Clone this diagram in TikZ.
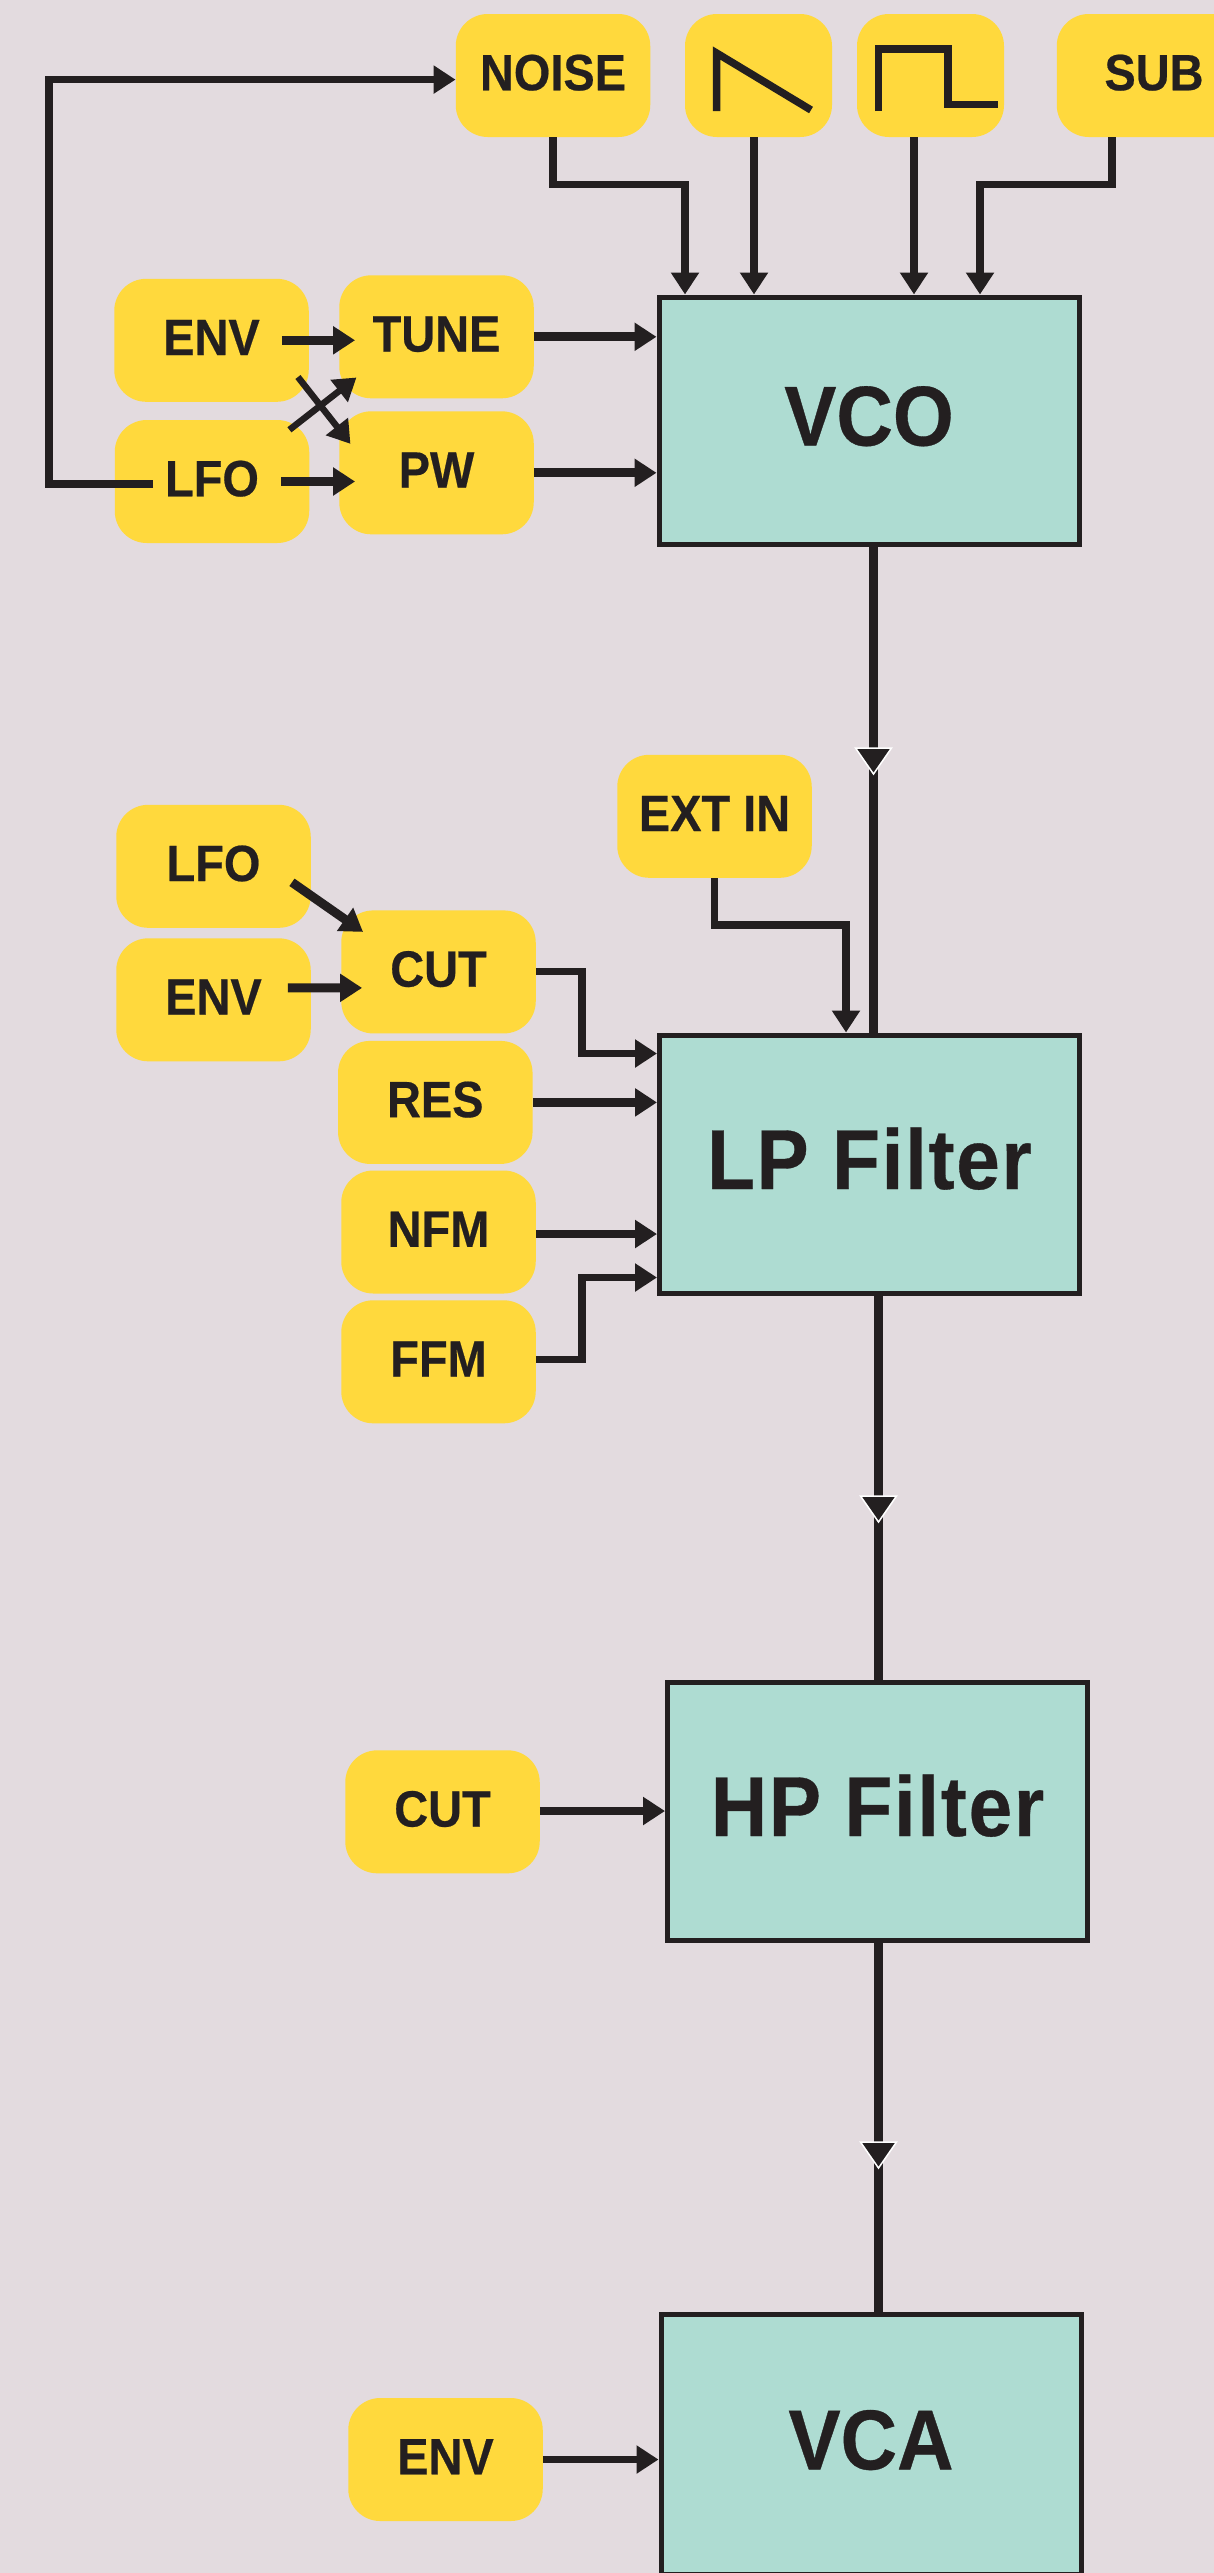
\documentclass[tikz,border=0pt]{standalone}
\usepackage{fontspec}
\setmainfont{Liberation Sans}[FakeStretch=0.92,BoldFeatures={FakeBold=0.4}]
\usetikzlibrary{arrows.meta,positioning}
\tikzset{>={Triangle[length=22pt,width=27pt]}}
\definecolor{background}{HTML}{E3DBDF}
\definecolor{penColor}{HTML}{231F20}
\definecolor{modColor}{HTML}{FFD93D}
\definecolor{moduleColor}{HTML}{AEDCD2}
\tikzset{
  modbox/.style={fill=modColor,rounded corners=32pt,minimum width=194.5pt,minimum height=123pt,inner sep=0pt,
    text=penColor,font=\bfseries\fontsize{51}{51}\selectfont,text height=36.5pt,text depth=7pt},
  modulebox/.style={draw=penColor,line width=5pt,fill=moduleColor,inner sep=0pt,minimum width=420pt,minimum height=258pt,
    text=penColor,font=\bfseries\fontsize{85}{85}\selectfont,text height=61pt,text depth=11pt},
  filterbox/.style={modulebox,font=\bfseries\fontsize{85}{85}\selectfont\addfontfeatures{LetterSpace=2}},
  wire/.style={penColor,line width=7.5pt,miter limit=10},
  fatwire/.style={penColor,line width=9pt},
  thinwire/.style={penColor,line width=6.5pt},
  midtip/.style={draw=white,fill=penColor,line width=1.5pt}
}
\begin{document}
\begin{tikzpicture}[x=1pt,y=-1pt]
\fill[background] (0,0) rectangle (1214,2573);
\useasboundingbox (0,0) rectangle (1214,2573);
% oscillator
\node[modulebox,minimum height=247pt] (vco) at (869,420.5) {VCO};
\node[modbox] (noise) at (553,75.5) {NOISE};
\node[modbox,minimum width=147pt] (saw) at (758.5,75.5) {};
\node[modbox,minimum width=147pt] (pulse) at (930.5,75.5) {};
\node[modbox] (sub) at (1154,75.5) {SUB};
\node[modbox] (envA) at (211.5,340.3) {ENV};
\node[modbox] (tune) at (436.5,336.8) {TUNE};
\node[modbox] (lfoA) at (212,481.5) {LFO};
\node[modbox] (pw) at (436.5,472.8) {PW};
\draw[wire,line join=miter] (716.5,111) -- (716.5,53) -- (811,110);% saw
\draw[wire] (878.5,111) -- (878.5,49) -- (948,49) -- (948,104.6) -- (998,104.6);% pulse
\draw[wire,->] (noise.south) |- (685,184.6) -- (685,0 |- vco.north);
\draw[wire,->] (754,0 |- saw.south) -- (754,0 |- vco.north);
\draw[wire,->] (914,0 |- pulse.south) -- (914,0 |- vco.north);
\draw[wire,->] (1112,0 |- sub.south) |- (980,184.6) -- (980,0 |- vco.north);
\draw[wire,->] ([shift={(-59,2.5)}]lfoA.center) -| (49,79.6) -- (noise.west |- 0,79.6);
\draw[fatwire,->] ([xshift=-27pt]envA.east) -- ([xshift=16pt]tune.west |- envA.east);
\draw[fatwire,->] ([xshift=-28pt]lfoA.east) -- ([xshift=16pt]pw.west |- lfoA.east);
\draw[thinwire,->] ([shift={(-11,-25)}]envA.south east) -- ([shift={(11.4,32.7)}]pw.north west);
\draw[thinwire,->] ([shift={(-20,10)}]lfoA.north east) -- ([shift={(17.4,-21)}]tune.south west);
\draw[fatwire,->] (tune.east) -- (vco.west |- tune.east);
\draw[fatwire,->] (pw.east) -- (vco.west |- pw.east);
% low pass
\node[filterbox] (lp) at (869.5,1164) {LP Filter};
\node[modbox] (extin) at (714.5,816.3) {EXT IN};
\node[modbox] (lfoB) at (213.5,866.3) {LFO};
\node[modbox] (envB) at (213.5,999.8) {ENV};
\node[modbox] (cutA) at (438.5,971.9) {CUT};
\node[modbox] (res) at (435.3,1102.4) {RES};
\node[modbox] (nfm) at (438.5,1232) {NFM};
\node[modbox] (ffm) at (438.5,1361.8) {FFM};
\draw[fatwire] (873.5,0 |- vco.south) -- (873.5,0 |- lp.north);
\draw[midtip] (855.5,748) -- (891.5,748) -- (873.5,774) -- cycle;
\draw[wire,->] (extin.south) |- (846,925) -- (846,0 |- lp.north);
\draw[fatwire,->] ([shift={(-19,16)}]lfoB.east) -- ([shift={(22,-40)}]cutA.west);
\draw[fatwire,->] ([shift={(-23,-12)}]envB.east) -- ([shift={(21,16)}]cutA.west);
\draw[wire,->] (cutA.east |- 0,971.4) -- (582,971.4) |- (lp.west |- 0,1053.5);
\draw[fatwire,->] (res.east) -- (lp.west |- res.east);
\draw[wire,->] (nfm.east |- 0,1234) -- (lp.west |- 0,1234);
\draw[wire,->] (ffm.east |- 0,1359.6) -- (582,1359.6) |- (lp.west |- 0,1277.5);
% high pass
\node[filterbox] (hp) at (877.5,1811) {HP Filter};
\node[modbox] (cutB) at (442.5,1811.8) {CUT};
\draw[fatwire] (878.5,0 |- lp.south) -- (878.5,0 |- hp.north);
\draw[midtip] (860.5,1496) -- (896.5,1496) -- (878.5,1522) -- cycle;
\draw[wire,->] (cutB.east |- 0,1811) -- (hp.west |- 0,1811);
% amplifier
\node[modulebox,minimum height=259.5pt] (vca) at (871,2444.3) {VCA};
\node[modbox] (envC) at (445.5,2459.5) {ENV};
\draw[fatwire] (878.5,0 |- hp.south) -- (878.5,0 |- vca.north);
\draw[midtip] (860.5,2142) -- (896.5,2142) -- (878.5,2168) -- cycle;
\draw[wire,->] (envC.east) -- (vca.west |- envC.east);
\end{tikzpicture}
\end{document}
